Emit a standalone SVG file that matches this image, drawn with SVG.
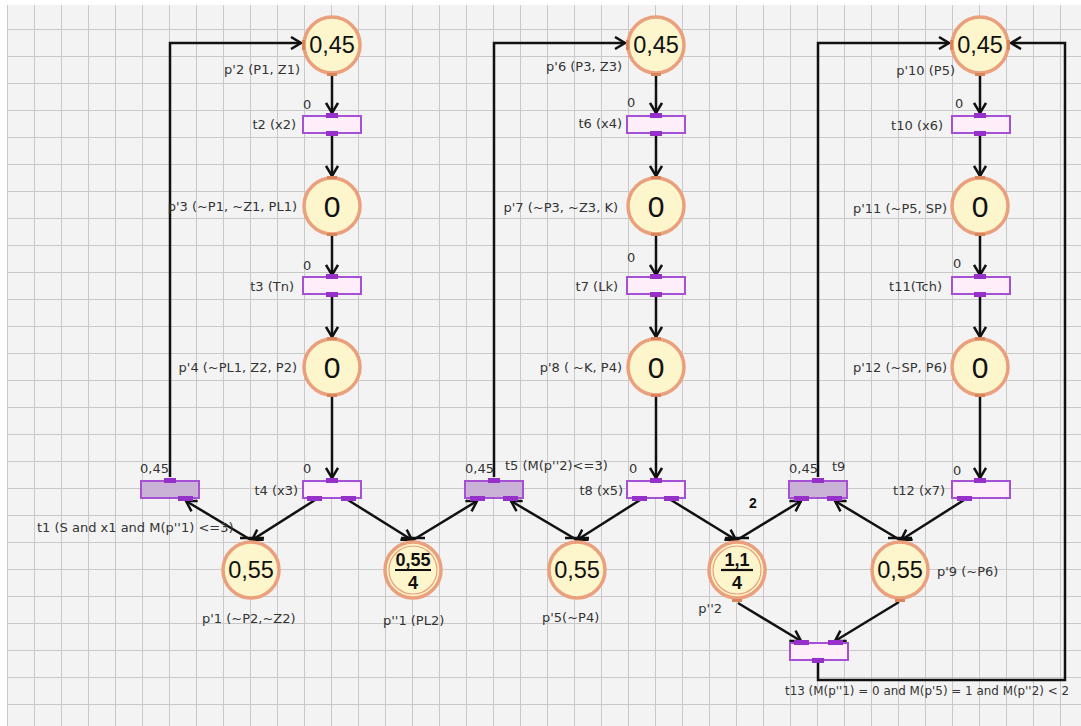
<svg xmlns="http://www.w3.org/2000/svg" width="1081" height="726" viewBox="0 0 1081 726">
<style>
.pl{fill:#fdf5cb;stroke:#eaa07d;stroke-width:3.5}
.pin{fill:none;stroke:#eaa07d;stroke-width:1.2}
.pp{fill:#d9855c}
.tr{fill:#fdeefa;stroke:#a650d6;stroke-width:2}
.en{fill:#c9b2d6}
.port{fill:#9530c8}
.lbl{font-family:"DejaVu Sans",sans-serif;font-size:13px;fill:#333}
.end{text-anchor:end}
.tok{font-family:"Liberation Sans",Arial,sans-serif;font-size:23.5px;fill:#111;text-anchor:middle}
.big{font-size:30px}
.frac{font-family:"Liberation Sans",Arial,sans-serif;font-size:18px;font-weight:bold;fill:#111;text-anchor:middle}
.bar{stroke:#111;stroke-width:2.2}
.arc{stroke:#111;stroke-width:2.5;fill:none;marker-end:url(#ah)}
.tick{stroke:#111;stroke-width:2.5}
</style>
<defs>
<pattern id="grid" width="27" height="27" patternUnits="userSpaceOnUse" x="7" y="2">
<path d="M0,0.5 H27 M0.5,0 V27" stroke="#c9c9c9" stroke-width="1" fill="none"/>
</pattern>
<marker id="ah" markerWidth="14" markerHeight="14" refX="0" refY="0" viewBox="-12 -7 14 14" orient="auto" markerUnits="userSpaceOnUse">
<path d="M-10,-6 L0,0 L-10,6" fill="none" stroke="#111" stroke-width="2.5"/>
</marker>
</defs>
<rect width="1081" height="726" fill="#ffffff"/>
<rect x="7" y="5" width="1074" height="721" fill="#f3f3f3"/>
<rect x="7" y="5" width="1074" height="721" fill="url(#grid)"/>

<g id="connectors">
<line class="arc" x1="332" y1="75" x2="332" y2="113"/>
<line class="arc" x1="332" y1="135" x2="332" y2="176"/>
<line class="arc" x1="332" y1="236" x2="332" y2="275"/>
<line class="arc" x1="332" y1="297" x2="332" y2="337"/>
<line class="arc" x1="332" y1="397" x2="332" y2="478"/>
<line class="arc" x1="656" y1="75" x2="656" y2="113"/>
<line class="arc" x1="656" y1="135" x2="656" y2="176"/>
<line class="arc" x1="656" y1="236" x2="656" y2="275"/>
<line class="arc" x1="656" y1="297" x2="656" y2="337"/>
<line class="arc" x1="656" y1="397" x2="656" y2="478"/>
<line class="arc" x1="980" y1="75" x2="980" y2="113"/>
<line class="arc" x1="980" y1="135" x2="980" y2="176"/>
<line class="arc" x1="980" y1="236" x2="980" y2="275"/>
<line class="arc" x1="980" y1="297" x2="980" y2="337"/>
<line class="arc" x1="980" y1="397" x2="980" y2="478"/>
<polyline class="arc" points="170,477 170,43 301,43"/>
<polyline class="arc" points="494,477 494,43 625,43"/>
<polyline class="arc" points="818,477 818,43 949,43"/>
<polyline class="arc" points="818,662 818,680 1065,680 1065,43 1011,43"/>
<line class="arc" x1="315" y1="500" x2="252" y2="540"/>
<line class="arc" x1="251" y1="540" x2="186" y2="501"/>
<line class="arc" x1="348" y1="500" x2="412" y2="540"/>
<line class="arc" x1="413" y1="540" x2="477" y2="501"/>
<line class="arc" x1="577" y1="540" x2="511" y2="501"/>
<line class="arc" x1="640" y1="500" x2="577" y2="540"/>
<line class="arc" x1="671" y1="500" x2="736" y2="540"/>
<line class="arc" x1="737" y1="540" x2="801" y2="501"/>
<line class="arc" x1="900" y1="540" x2="835" y2="501"/>
<line class="arc" x1="964" y1="500" x2="901" y2="540"/>
<line class="arc" x1="738" y1="603" x2="801" y2="641"/>
<line class="arc" x1="899" y1="602" x2="835" y2="641"/>
<line class="tick" x1="240" y1="538" x2="264" y2="538"/>
<line class="tick" x1="401" y1="538" x2="425" y2="538"/>
<line class="tick" x1="565" y1="538" x2="589" y2="538"/>
<line class="tick" x1="725" y1="538" x2="749" y2="538"/>
<line class="tick" x1="888" y1="538" x2="912" y2="538"/>
<text class="frac" x="753" y="508" style="font-size:14px">2</text>
</g>

<!-- places -->
<g id="p2"><circle class="pl" cx="332" cy="45" r="28"/><rect class="pp" x="302" y="40" width="3" height="10"/><rect class="pp" x="327" y="73" width="10" height="3"/><text class="tok" x="332" y="53">0,45</text><text class="lbl end" x="300" y="74">p'2 (P1, Z1)</text></g>
<g id="p3"><circle class="pl" cx="332" cy="206" r="28"/><rect class="pp" x="327" y="176" width="10" height="3"/><rect class="pp" x="327" y="233" width="10" height="3"/><text class="tok big" x="332" y="217">0</text><text class="lbl end" x="297" y="211">p'3 (~P1, ~Z1, PL1)</text></g>
<g id="p4"><circle class="pl" cx="332" cy="367" r="28"/><rect class="pp" x="327" y="337" width="10" height="3"/><rect class="pp" x="327" y="394" width="10" height="3"/><text class="tok big" x="332" y="378">0</text><text class="lbl end" x="297" y="372">p'4 (~PL1, Z2, P2)</text></g>
<g id="p6"><circle class="pl" cx="656" cy="45" r="28"/><rect class="pp" x="626" y="40" width="3" height="10"/><rect class="pp" x="651" y="73" width="10" height="3"/><text class="tok" x="656" y="53">0,45</text><text class="lbl end" x="622" y="71">p'6 (P3, Z3)</text></g>
<g id="p7"><circle class="pl" cx="656" cy="206" r="28"/><rect class="pp" x="651" y="176" width="10" height="3"/><rect class="pp" x="651" y="233" width="10" height="3"/><text class="tok big" x="656" y="217">0</text><text class="lbl end" x="618" y="212">p'7 (~P3, ~Z3, K)</text></g>
<g id="p8"><circle class="pl" cx="656" cy="367" r="28"/><rect class="pp" x="651" y="337" width="10" height="3"/><rect class="pp" x="651" y="394" width="10" height="3"/><text class="tok big" x="656" y="378">0</text><text class="lbl end" x="622" y="372">p'8 ( ~K, P4)</text></g>
<g id="p10"><circle class="pl" cx="980" cy="45" r="28"/><rect class="pp" x="950" y="40" width="3" height="10"/><rect class="pp" x="1007" y="40" width="3" height="10"/><rect class="pp" x="975" y="73" width="10" height="3"/><text class="tok" x="980" y="53">0,45</text><text class="lbl end" x="955" y="75">p'10 (P5)</text></g>
<g id="p11"><circle class="pl" cx="980" cy="206" r="28"/><rect class="pp" x="975" y="176" width="10" height="3"/><rect class="pp" x="975" y="233" width="10" height="3"/><text class="tok big" x="980" y="217">0</text><text class="lbl end" x="947" y="213">p'11 (~P5, SP)</text></g>
<g id="p12"><circle class="pl" cx="980" cy="367" r="28"/><rect class="pp" x="975" y="337" width="10" height="3"/><rect class="pp" x="975" y="394" width="10" height="3"/><text class="tok big" x="980" y="378">0</text><text class="lbl end" x="947" y="372">p'12 (~SP, P6)</text></g>
<g id="p1"><circle class="pl" cx="251" cy="570" r="28"/><text class="tok" x="251" y="578">0,55</text><text class="lbl" x="202" y="623">p'1 (~P2,~Z2)</text></g>
<g id="pp1"><circle class="pl" cx="413" cy="570" r="28"/><circle class="pin" cx="413" cy="570" r="24"/><text class="frac" x="413" y="566">0,55</text><line class="bar" x1="395" y1="570" x2="431" y2="570"/><text class="frac" x="413" y="589">4</text><text class="lbl" x="383" y="625">p''1 (PL2)</text></g>
<g id="p5"><circle class="pl" cx="577" cy="570" r="28"/><text class="tok" x="577" y="578">0,55</text><text class="lbl" x="542" y="622">p'5(~P4)</text></g>
<g id="pp2"><circle class="pl" cx="737" cy="570" r="28"/><circle class="pin" cx="737" cy="570" r="24"/><rect class="pp" x="732" y="599" width="10" height="3"/><text class="frac" x="737" y="566">1,1</text><line class="bar" x1="721" y1="570" x2="753" y2="570"/><text class="frac" x="737" y="589">4</text><text class="lbl end" x="722" y="613">p''2</text></g>
<g id="p9"><circle class="pl" cx="900" cy="570" r="28"/><rect class="pp" x="895" y="599" width="10" height="3"/><text class="tok" x="900" y="578">0,55</text><text class="lbl" x="937" y="576">p'9 (~P6)</text></g>

<!-- transitions -->
<g id="t2"><rect class="tr" x="303" y="116" width="58" height="17"/><rect class="port" x="326" y="113" width="12" height="5"/><rect class="port" x="326" y="131" width="12" height="5"/><text class="lbl" x="303" y="109">0</text><text class="lbl end" x="296" y="129">t2 (x2)</text></g>
<g id="t3"><rect class="tr" x="303" y="277" width="58" height="17"/><rect class="port" x="326" y="274" width="12" height="5"/><rect class="port" x="326" y="292" width="12" height="5"/><text class="lbl" x="303" y="270">0</text><text class="lbl end" x="294" y="291">t3 (Tn)</text></g>
<g id="t4"><rect class="tr" x="303" y="481" width="58" height="17"/><rect class="port" x="326" y="478" width="12" height="5"/><rect class="port" x="307" y="496" width="15" height="5"/><rect class="port" x="341" y="496" width="15" height="5"/><text class="lbl" x="303" y="473">0</text><text class="lbl end" x="298" y="495">t4 (x3)</text></g>
<g id="t1"><rect class="tr en" x="141" y="481" width="58" height="17"/><rect class="port" x="164" y="478" width="12" height="5"/><rect class="port" x="178" y="496" width="15" height="5"/><text class="lbl" x="140" y="473">0,45</text><text class="lbl" x="37" y="532">t1 (S and x1 and M(p''1) &lt;=3)</text></g>
<g id="t6"><rect class="tr" x="627" y="116" width="58" height="17"/><rect class="port" x="650" y="113" width="12" height="5"/><rect class="port" x="650" y="131" width="12" height="5"/><text class="lbl" x="627" y="107">0</text><text class="lbl end" x="622" y="128">t6 (x4)</text></g>
<g id="t7"><rect class="tr" x="627" y="277" width="58" height="17"/><rect class="port" x="650" y="274" width="12" height="5"/><rect class="port" x="650" y="292" width="12" height="5"/><text class="lbl" x="627" y="262">0</text><text class="lbl end" x="618" y="291">t7 (Lk)</text></g>
<g id="t8"><rect class="tr" x="627" y="481" width="58" height="17"/><rect class="port" x="650" y="478" width="12" height="5"/><rect class="port" x="632" y="496" width="15" height="5"/><rect class="port" x="664" y="496" width="15" height="5"/><text class="lbl" x="629" y="473">0</text><text class="lbl end" x="623" y="495">t8 (x5)</text></g>
<g id="t5"><rect class="tr en" x="465" y="481" width="58" height="17"/><rect class="port" x="488" y="478" width="12" height="5"/><rect class="port" x="470" y="496" width="15" height="5"/><rect class="port" x="503" y="496" width="15" height="5"/><text class="lbl" x="465" y="473">0,45</text><text class="lbl" x="505" y="470">t5 (M(p''2)&lt;=3)</text></g>
<g id="t10"><rect class="tr" x="952" y="116" width="58" height="17"/><rect class="port" x="974" y="113" width="12" height="5"/><rect class="port" x="974" y="131" width="12" height="5"/><text class="lbl" x="955" y="108">0</text><text class="lbl end" x="943" y="130">t10 (x6)</text></g>
<g id="t11"><rect class="tr" x="952" y="277" width="58" height="17"/><rect class="port" x="974" y="274" width="12" height="5"/><rect class="port" x="974" y="292" width="12" height="5"/><text class="lbl" x="953" y="268">0</text><text class="lbl end" x="942" y="291">t11(Tch)</text></g>
<g id="t12"><rect class="tr" x="952" y="481" width="58" height="17"/><rect class="port" x="974" y="478" width="12" height="5"/><rect class="port" x="957" y="496" width="15" height="5"/><text class="lbl" x="953" y="475">0</text><text class="lbl end" x="945" y="495">t12 (x7)</text></g>
<g id="t9"><rect class="tr en" x="789" y="481" width="58" height="17"/><rect class="port" x="812" y="478" width="12" height="5"/><rect class="port" x="794" y="496" width="15" height="5"/><rect class="port" x="827" y="496" width="15" height="5"/><text class="lbl" x="789" y="473">0,45</text><text class="lbl" x="832" y="471">t9</text></g>
<g id="t13"><rect class="tr" x="790" y="643" width="58" height="17"/><rect class="port" x="794" y="640" width="15" height="5"/><rect class="port" x="828" y="640" width="15" height="5"/><rect class="port" x="812" y="658" width="12" height="5"/><text class="lbl" x="785" y="695" style="font-size:12px" textLength="284" lengthAdjust="spacingAndGlyphs">t13 (M(p''1) = 0 and M(p'5) = 1 and M(p''2) &lt; 2</text></g>
</svg>
